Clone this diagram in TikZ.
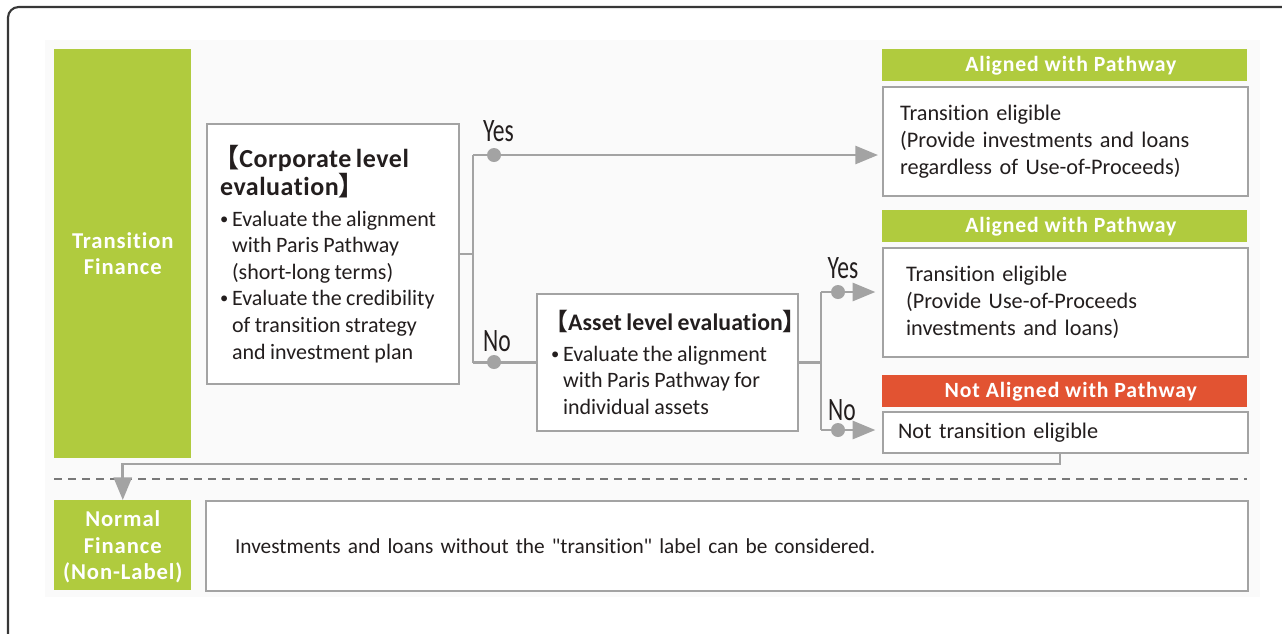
\documentclass[tikz,border=0pt]{standalone}
\usepackage{fontspec}
\setmainfont{Carlito}[Ligatures={NoCommon,TeXOff}]
\newfontfamily\cjk{Noto Sans CJK JP}
\newfontfamily\condf[FakeStretch=0.72]{Carlito}
\newfontfamily\headf[LetterSpace=4,Ligatures={NoCommon}]{Carlito}
\newfontfamily\boxhf[LetterSpace=2,Ligatures={NoCommon}]{Carlito}
\newfontfamily\boxhg[LetterSpace=0.5,Ligatures={NoCommon}]{Carlito}
\usetikzlibrary{arrows.meta}
\definecolor{tgreen}{RGB}{176,203,62}
\definecolor{tred}{RGB}{226,83,50}
\definecolor{lgray}{RGB}{163,163,163}
\definecolor{dgray}{RGB}{120,120,120}
\definecolor{framec}{RGB}{55,55,55}
\definecolor{txt}{RGB}{35,30,30}
\newcommand\mybul{\makebox[9pt][l]{\raisebox{1.5pt}{\scalebox{0.75}{•}}}}
\newcommand\myind{\hspace*{9pt}}
\newcommand\lbr{\kern-5pt{\cjk\bfseries【}}
\newcommand\rbr{{\cjk\bfseries】}}
\newcommand\bodyfs{\fontsize{16.5pt}{19.9pt}\selectfont}
\newcommand\resfs{\fontsize{16.7pt}{20.25pt}\selectfont}
\newcommand\hdrfs{\boxhf\bfseries\fontsize{19.5pt}{21pt}\selectfont}
\newcommand\hdrfsb{\boxhg\bfseries\fontsize{17.8pt}{21pt}\selectfont}
\tikzset{
  greenbox/.style={fill=tgreen, text=white, font=\headf\bfseries\fontsize{17pt}{19.7pt}\selectfont,
    align=center, anchor=north west, inner sep=0pt},
  grayframe/.style={draw=lgray, line width=1.6pt, fill=white, anchor=north west, text=txt, align=left},
  hdr/.style={fill=#1, text=white, font=\headf\bfseries\fontsize{16.3pt}{19pt}\selectfont,
    anchor=north west, inner sep=0pt, minimum width=365*0.75pt, minimum height=32*0.75pt},
  conn/.style={draw=lgray, line width=2pt},
  arr/.style={conn, -{Triangle[length=17pt,width=13.5pt]}},
  dot/.style={circle, fill=lgray, inner sep=0pt, minimum size=10.5pt},
  yn/.style={font=\condf\fontsize{24.5pt}{26pt}\selectfont, text=txt, inner sep=0pt},
}
\begin{document}
\begin{tikzpicture}[x=0.75pt,y=-0.75pt]
\useasboundingbox (0,0) rectangle (1282,633);
% outer frame and faint background
\draw[framec, line width=1.6pt, rounded corners=8pt] (8,7) rectangle (1320,680);
\fill[black!2] (45,40) rectangle (1260,597);

% left green labels
\node[greenbox, minimum width=137*0.75pt, minimum height=409*0.75pt] (tf) at (54,49) {Transition\\Finance};
\node[greenbox, minimum width=137*0.75pt, minimum height=90*0.75pt, text depth=-6pt] (nf) at (54,500) {Normal\\Finance\\(Non-Label)};

% corporate level box
\node[grayframe, minimum width=252*0.75pt, minimum height=260*0.75pt, inner xsep=13*0.75pt, inner ysep=0pt,
      text width=226*0.75pt] (corp) at (206,123) {%
  {\hdrfs\lbr Corporate level\\evaluation\rbr\par}\vspace{3pt}
  {\bodyfs \mybul Evaluate the alignment\\\myind with Paris Pathway\\\myind(short-long terms)\par}
  {\bodyfs \mybul Evaluate the credibility\\\myind of transition strategy\\\myind and investment plan\par}};

% asset level box
\node[grayframe, minimum width=261*0.75pt, minimum height=137*0.75pt, inner xsep=14*0.75pt, inner ysep=0pt,
      text width=233*0.75pt] (asset) at (536,293) {%
  {\hdrfsb\mbox{\lbr Asset level evaluation\rbr}\par}\vspace{3pt}
  {\bodyfs \mybul Evaluate the alignment\\\myind with Paris Pathway for\\\myind individual assets\par}};

% result headers and boxes
\node[hdr=tgreen] (h1) at (882,49) {\hspace*{9pt}Aligned with Pathway};
\node[grayframe, minimum width=365*0.75pt, minimum height=109*0.75pt, inner xsep=17*0.75pt, inner ysep=0pt,
      text width=331*0.75pt, font=\resfs] (res1) at (882,86)
  {Transition eligible\\(Provide investments and loans\\regardless of Use-of-Proceeds)};
\node[hdr=tgreen] (h2) at (882,210) {\hspace*{9pt}Aligned with Pathway};
\node[grayframe, minimum width=365*0.75pt, minimum height=109*0.75pt, inner xsep=23*0.75pt, inner ysep=0pt,
      text width=319*0.75pt, font=\resfs] (res2) at (882,247)
  {Transition eligible\\(Provide Use-of-Proceeds\\investments and loans)};
\node[hdr=tred] (h3) at (882,375) {\hspace*{9pt}Not Aligned with Pathway};
\node[grayframe, minimum width=365*0.75pt, minimum height=41*0.75pt, inner xsep=15*0.75pt, inner ysep=0pt,
      text width=335*0.75pt, font=\resfs] (res3) at (882,411) {Not transition eligible};

% normal finance description
\node[grayframe, minimum width=1042*0.75pt, minimum height=90*0.75pt, inner xsep=29*0.75pt, inner ysep=0pt,
      text width=984*0.75pt, font=\fontsize{16pt}{19pt}\selectfont] (desc) at (205,500)
  {Investments and loans without the "transition" label can be considered.};

% dashed separator
\draw[dgray, line width=1.5pt, dash pattern=on 6pt off 4.5pt] (54,479) -- (1247,479);

% corporate branches
\coordinate (j1) at (473,155);
\coordinate (j2) at (asset.west -| j1);
\draw[conn] (corp.east) -- (corp.east -| j1);
\draw[conn] (j1) -- (j2);
\draw[arr, shorten >=3pt] (j1) -- (j1 -| res1.west);
\draw[conn] (j2) -- (asset.west);
\node[dot] (d1) at (494,155) {};
\node[dot] (d2) at (494,362) {};
\node[yn] (yes1) at (498.5,131) {Yes};
\node[yn] (no1) at (497,341) {No};

% asset branches
\coordinate (k1) at (821,292);
\coordinate (k2) at (821,430);
\draw[conn] (asset.east) -- (asset.east -| k1);
\draw[conn] (k1) -- (k2);
\draw[arr, shorten >=5pt] (k1) -- (k1 -| res2.west);
\draw[arr, shorten >=5pt] (k2) -- (k2 -| res3.west);
\node[dot] (d3) at (838,292) {};
\node[dot] (d4) at (838,430) {};
\node[yn] (yes2) at (843,268) {Yes};
\node[yn] (no2) at (842,410) {No};

% return to normal finance
\coordinate (ret) at (1060,464);
\draw[arr] (res3.south -| ret) -- (ret) -| (nf.north);
\end{tikzpicture}
\end{document}
